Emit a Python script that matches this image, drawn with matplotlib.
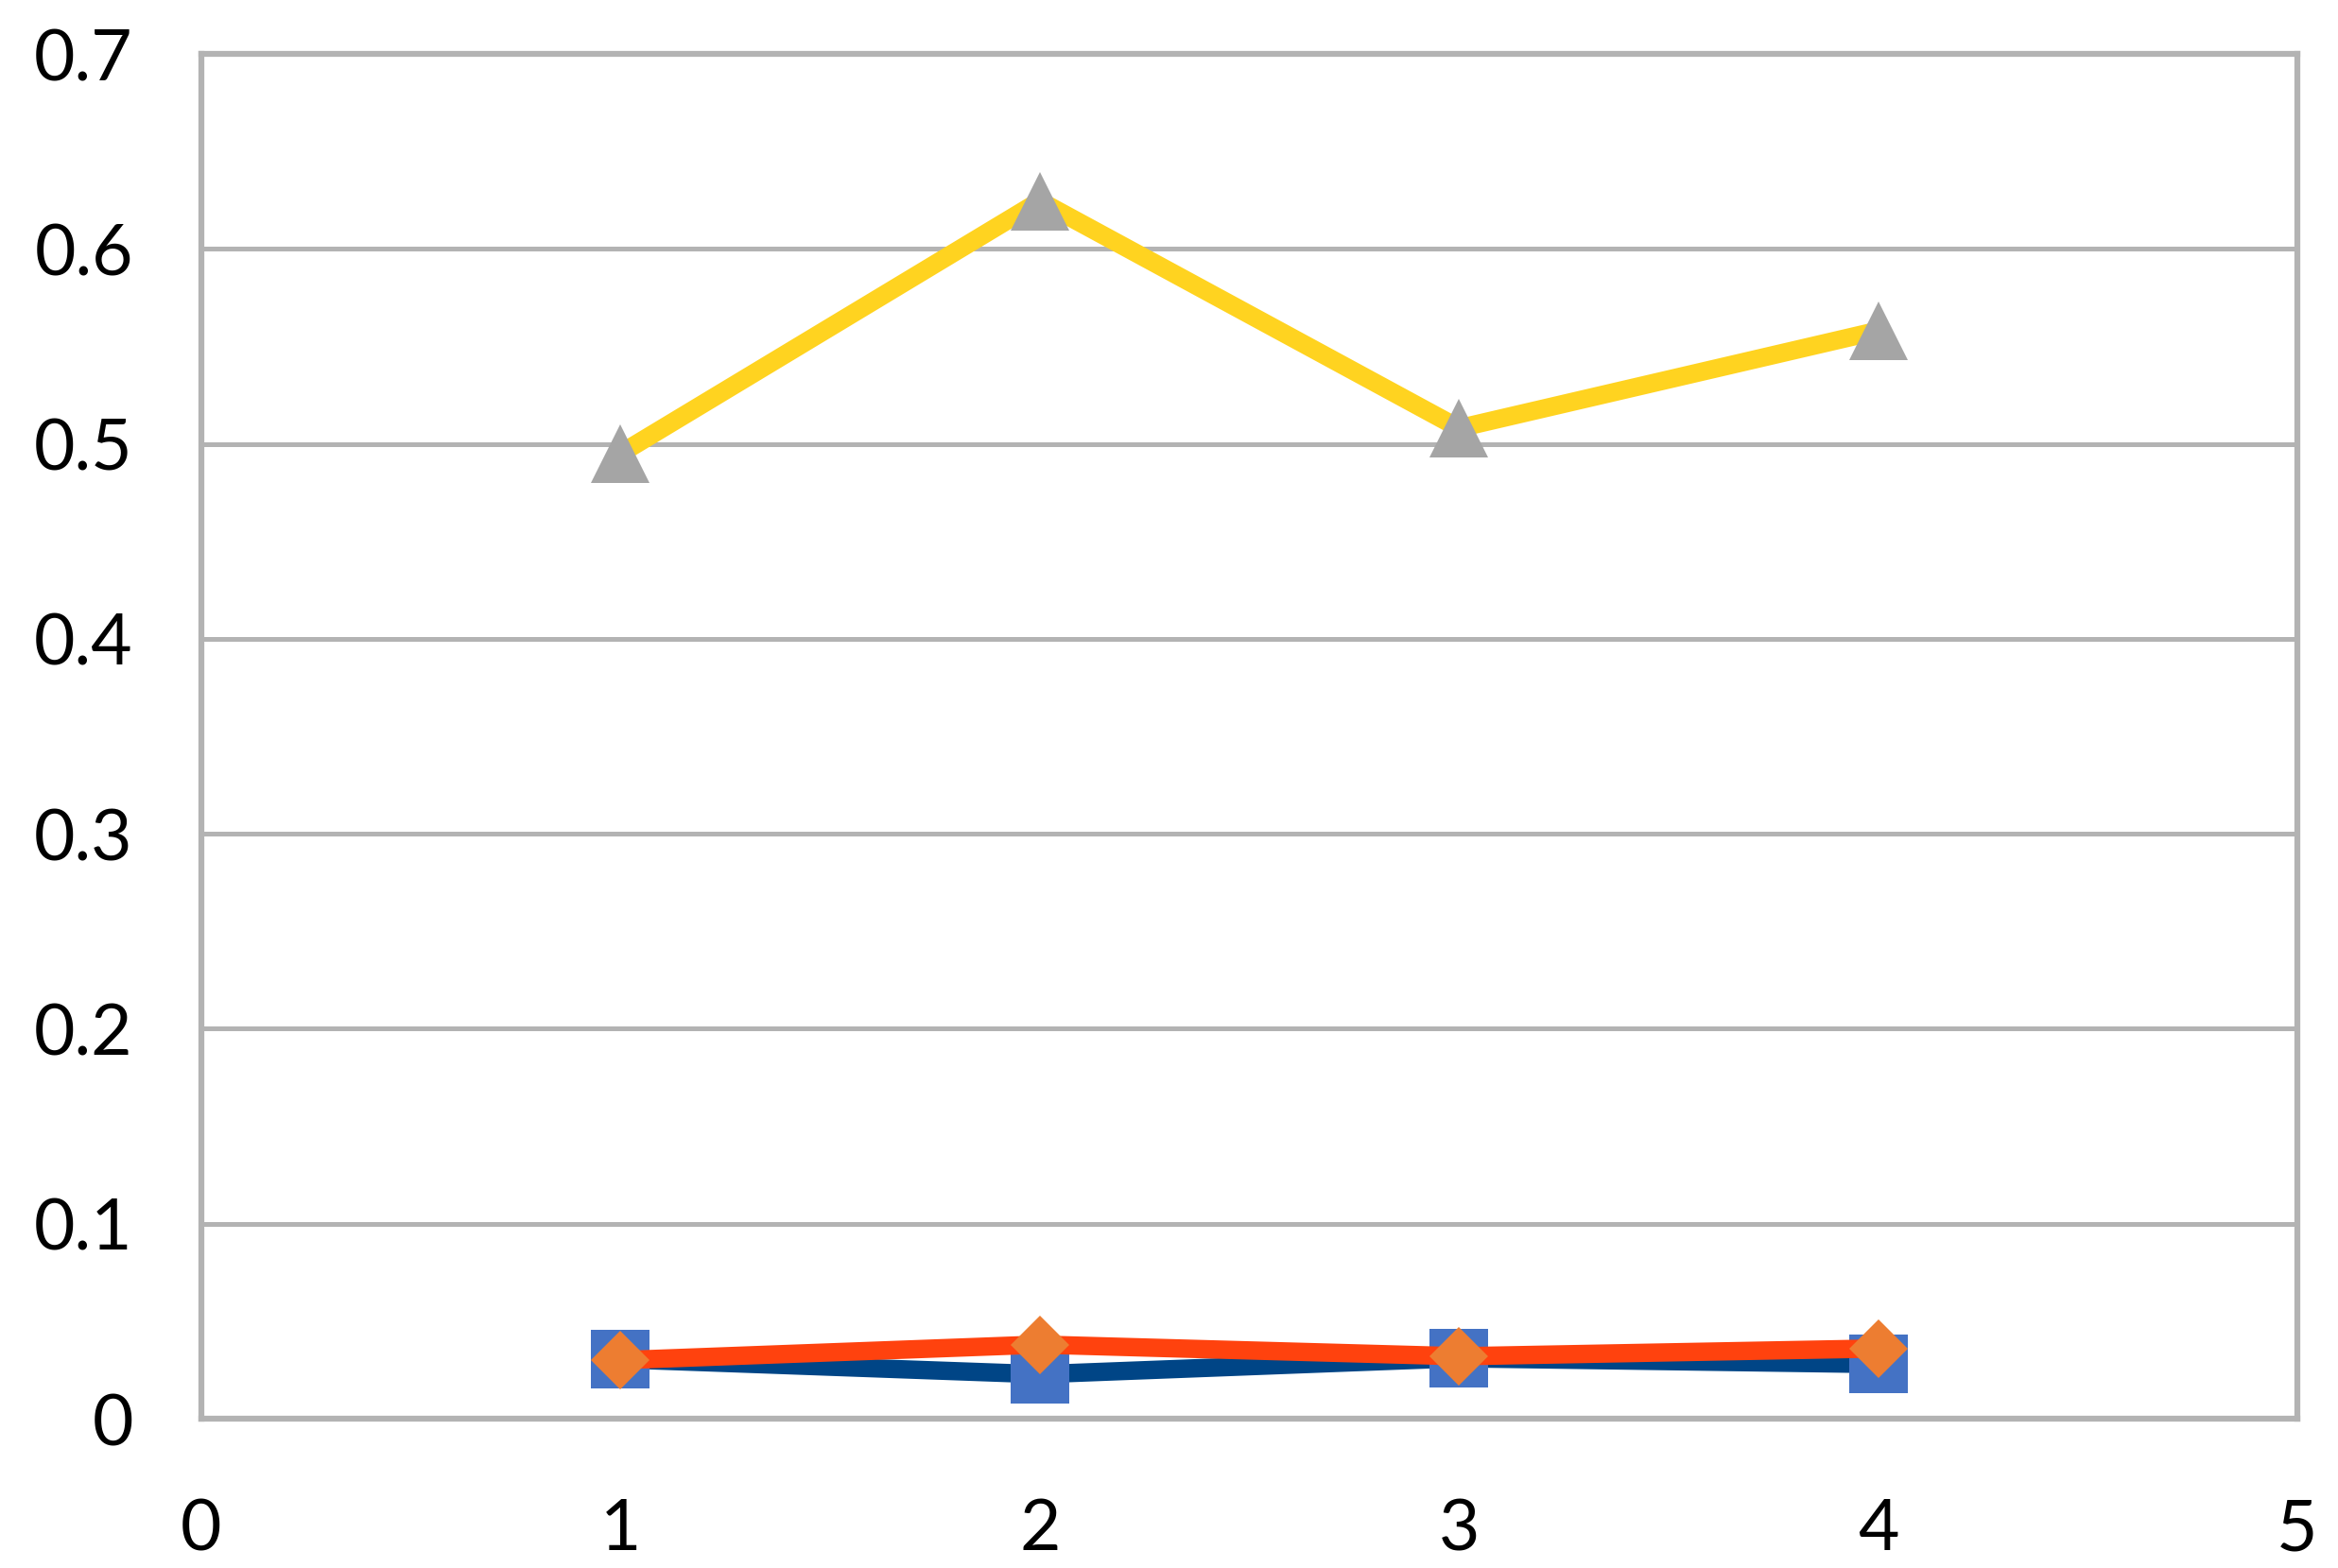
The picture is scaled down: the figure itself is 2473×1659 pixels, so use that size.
import numpy as np
import matplotlib
matplotlib.use("Agg")
import matplotlib.pyplot as plt

plt.rcParams['font.family'] = ['Lato', 'DejaVu Sans']

# data
x_vals = [1, 2, 3, 4]
series_blue = [0.0305, 0.0228, 0.0310, 0.0280]
series_orange = [0.0300, 0.0380, 0.0320, 0.0360]
series_yellow = [0.495, 0.6246, 0.508, 0.558]
x_ticks = [0, 1, 2, 3, 4, 5]
y_ticks = [0, 0.1, 0.2, 0.3, 0.4, 0.5, 0.6, 0.7]
y_tick_labels = ["0", "0.1", "0.2", "0.3", "0.4", "0.5", "0.6", "0.7"]

W, H = 2473, 1659
fig = plt.figure(figsize=(W / 100, H / 100), dpi=100)
ax = fig.add_axes([213 / W, 1 - 1501 / H, (2430 - 213) / W, (1501 - 57) / H])

grid_c = '#B3B3B3'
ax.set_xlim(0, 5)
ax.set_ylim(0, 0.7)
ax.set_xticks(x_ticks)
ax.set_yticks(y_ticks)
ax.set_yticklabels(y_tick_labels)
ax.grid(axis='y', color=grid_c, linewidth=3.6, zorder=0)
ax.set_axisbelow(True)
for s in ax.spines.values():
    s.set_color(grid_c)
    s.set_linewidth(4.5)
ax.tick_params(length=0, labelsize=54, colors='black')
ax.tick_params(axis='y', pad=52)
ax.tick_params(axis='x', pad=60)

ms = 44.6
lw = 14
ax.plot(x_vals, series_blue, color='#004586', linewidth=lw, marker='s',
        markersize=ms, markerfacecolor='#4472C4', markeredgewidth=0,
        solid_joinstyle='round', zorder=3, clip_on=False)
ax.plot(x_vals, series_orange, color='#FF420E', linewidth=lw, marker='D',
        markersize=ms / np.sqrt(2), markerfacecolor='#ED7D31', markeredgewidth=0,
        solid_joinstyle='round', zorder=4, clip_on=False)
ax.plot(x_vals, series_yellow, color='#FFD320', linewidth=lw, marker='^',
        markersize=ms, markerfacecolor='#A5A5A5', markeredgewidth=0,
        solid_joinstyle='round', zorder=5, clip_on=False)

fig.savefig('out.png', dpi=100, facecolor='white')
